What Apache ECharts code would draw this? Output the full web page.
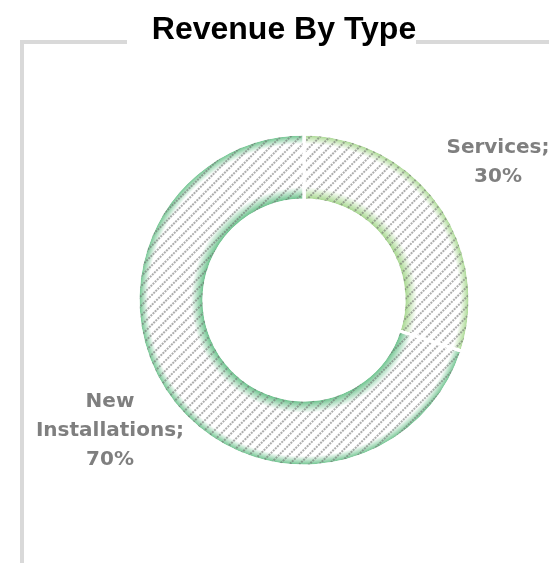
<!DOCTYPE html>
<html>
<head>
<meta charset="utf-8">
<script src="https://cdn.jsdelivr.net/npm/echarts@6/dist/echarts.min.js"></script>
<style>
  html, body { margin: 0; padding: 0; background: #fff; }
  #chart { width: 549px; height: 563px; }
</style>
</head>
<body>
<div id="chart"></div>
<script>
// data
const categories = ['Services', 'New Installations']
const values = [30, 70]
const labelLines = [['Services;', '30%'], ['New', 'Installations;', '70%']]
const sliceColors = ['#9fd484', '#5cbc80']

const cx = 304, cy = 300, rIn = 100, rOut = 166

const chart = echarts.init(document.getElementById('chart'))

// green at the ring edges, white in the middle
function ringFill (c) {
  return {
    type: 'radial', x: cx, y: cy, r: rOut, global: true,
    colorStops: [
      { offset: 0, color: c },
      { offset: rIn / rOut, color: c },
      { offset: 0.68, color: '#ffffff' },
      { offset: 0.94, color: '#ffffff' },
      { offset: 1, color: c }
    ]
  }
}

const labelPos = [
  { x: 498, y: 162 },
  { x: 110, y: 431 }
]

const option = {
  animation: false,
  title: {
    text: 'Revenue By Type',
    left: 279,
    top: 9,
    textAlign: 'center',
    textStyle: { fontFamily: 'Liberation Sans', fontWeight: 'bold', fontSize: 32, color: '#000' }
  },
  graphic: [
    { type: 'line', shape: { x1: 22, y1: 42, x2: 127, y2: 42 }, style: { stroke: '#d9d9d9', lineWidth: 4 } },
    { type: 'line', shape: { x1: 416, y1: 42, x2: 549, y2: 42 }, style: { stroke: '#d9d9d9', lineWidth: 4 } },
    { type: 'line', shape: { x1: 22, y1: 40, x2: 22, y2: 563 }, style: { stroke: '#d9d9d9', lineWidth: 4 } }
  ],
  series: [
    {
      type: 'pie',
      center: [cx, cy],
      radius: [rIn, rOut],
      startAngle: 90,
      clockwise: true,
      silent: true,
      emphasis: { disabled: true },
      itemStyle: {
        borderColor: '#fff',
        borderWidth: 3,
        decal: {
          symbol: 'rect',
          dashArrayX: [[2, 1]],
          dashArrayY: [1.3, 5],
          rotation: -Math.PI / 4,
          color: 'rgba(105,105,105,0.55)'
        }
      },
      label: {
        show: true,
        position: 'outside',
        overflow: 'none',
        width: 200,
        fontFamily: 'DejaVu Sans',
        fontWeight: 'bold',
        fontSize: 20,
        lineHeight: 29,
        color: '#7f7f7f',
        align: 'center',
        formatter: p => labelLines[p.dataIndex].join('\n')
      },
      labelLine: { show: false },
      labelLayout: p => ({
        x: labelPos[p.dataIndex].x,
        y: labelPos[p.dataIndex].y,
        align: 'center',
        verticalAlign: 'middle'
      }),
      data: categories.map((name, i) => ({
        name,
        value: values[i],
        itemStyle: { color: ringFill(sliceColors[i]) }
      }))
    }
  ]
}

chart.setOption(option)
</script>
</body>
</html>
